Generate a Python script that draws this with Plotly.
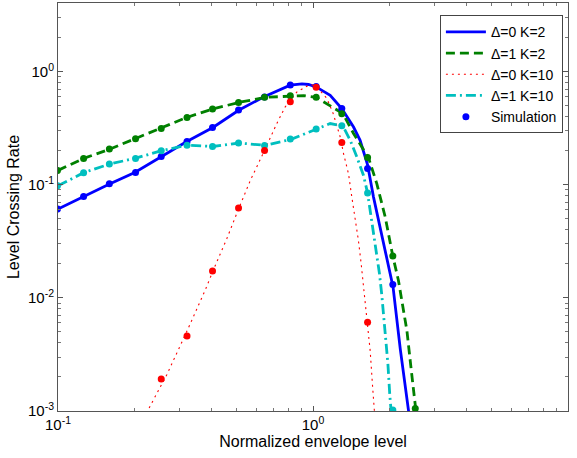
import plotly.graph_objects as go

# ---------------- data ----------------
# simulation sample positions (normalized envelope level)
x_sim = [0.0995, 0.126, 0.159, 0.2014, 0.254, 0.3206, 0.4036, 0.5105,
         0.6457, 0.8147, 1.029, 1.297, 1.637, 2.056, 2.518]

sim_d0_k2 = [0.061, 0.0788, 0.102, 0.1285, 0.178, 0.241, 0.321, 0.458,
             0.597, 0.763, 0.74, 0.472, 0.139, 0.0131, None]
sim_d1_k2 = [0.134, 0.171, 0.207, 0.255, 0.315, 0.394, 0.468, 0.535,
             0.593, 0.613, 0.593, 0.425, 0.174, 0.0235, 0.00105]
sim_d0_k10 = [None, None, None, None, 0.00192, 0.00461, 0.0173, 0.0622,
              0.201, 0.543, 0.728, 0.236, 0.0061, None, None]
sim_d1_k10 = [0.098, 0.128, 0.153, 0.171, 0.2, 0.224, 0.218, 0.234,
              0.223, 0.254, 0.312, 0.332, 0.0845, 0.00102, None]

# theory curves
x_d0_k2 = [0.1, 0.126, 0.16, 0.2, 0.255, 0.32, 0.405, 0.513, 0.64, 0.74,
           0.814, 0.905, 0.96, 1.029, 1.168, 1.297, 1.442, 1.53, 1.637,
           1.727, 1.835, 1.95, 1.995, 2.06, 2.2, 2.37, 2.45]
y_d0_k2 = [0.061, 0.0788, 0.102, 0.1285, 0.178, 0.241, 0.321, 0.458, 0.597,
           0.69, 0.759, 0.78, 0.77, 0.733, 0.619, 0.472, 0.324, 0.247, 0.15,
           0.0778, 0.0422, 0.0229, 0.0175, 0.0125, 0.0035, 0.001, 0.0004]

x_d1_k2 = [0.1, 0.126, 0.16, 0.2, 0.255, 0.32, 0.405, 0.513, 0.65, 0.82,
           0.92, 1.03, 1.134, 1.31, 1.442, 1.65, 1.78, 1.92, 2.056, 2.164,
           2.23, 2.335, 2.43, 2.54, 2.6]
y_d1_k2 = [0.134, 0.171, 0.207, 0.255, 0.315, 0.394, 0.468, 0.535, 0.593,
           0.613, 0.615, 0.593, 0.523, 0.426, 0.284, 0.174, 0.102, 0.0518,
           0.0234, 0.0142, 0.00946, 0.00513, 0.00227, 0.001, 0.0006]

x_d0_k10 = [0.222, 0.267, 0.322, 0.378, 0.411, 0.459, 0.511, 0.568, 0.646,
            0.721, 0.778, 0.865, 0.96, 1.0, 1.03, 1.134, 1.2, 1.278, 1.318,
            1.378, 1.42, 1.464, 1.507, 1.545, 1.602, 1.636, 1.676, 1.71,
            1.742, 1.77]
y_d0_k10 = [0.000955, 0.00209, 0.00521, 0.01175, 0.01866, 0.0333, 0.0614,
            0.1094, 0.2018, 0.3475, 0.488, 0.662, 0.759, 0.76, 0.74, 0.579,
            0.426, 0.265, 0.188, 0.125, 0.0778, 0.0518, 0.0322, 0.02,
            0.00885, 0.0061, 0.0034, 0.00173, 0.001, 0.0006]

x_d1_k10 = [0.1, 0.126, 0.16, 0.2, 0.255, 0.32, 0.405, 0.513, 0.65, 0.82,
            1.03, 1.168, 1.31, 1.4, 1.486, 1.578, 1.637, 1.687, 1.753,
            1.823, 1.862, 1.92, 1.967, 2.0, 2.026, 2.05]
y_d1_k10 = [0.098, 0.128, 0.153, 0.171, 0.2, 0.224, 0.218, 0.234, 0.223,
            0.252, 0.31, 0.348, 0.331, 0.247, 0.176, 0.121, 0.0845, 0.0536,
            0.0322, 0.0163, 0.0105, 0.0048, 0.0026, 0.0014, 0.001, 0.0007]

names = ["Δ=0 K=2", "Δ=1 K=2", "Δ=0 K=10", "Δ=1 K=10"]
sim_name = "Simulation"

x_tickvals = [0.1, 1, 10]
x_ticktext = ["10<sup>-1</sup>", "10<sup>0</sup>", "10<sup>1</sup>"]
y_tickvals = [0.001, 0.01, 0.1, 1]
y_ticktext = ["10<sup>-3</sup>", "10<sup>-2</sup>", "10<sup>-1</sup>", "10<sup>0</sup>"]

# ---------------- styles ----------------
BLUE = "rgb(0,0,255)"
GREEN = "rgb(0,128,0)"
RED = "rgb(255,0,0)"
CYAN = "rgb(0,191,191)"
FONT = "Liberation Sans, Arial, sans-serif"

fig = go.Figure()

fig.add_trace(go.Scatter(x=x_d0_k2, y=y_d0_k2, mode="lines", name=names[0],
                         line=dict(color=BLUE, width=2.8)))
fig.add_trace(go.Scatter(x=x_d1_k2, y=y_d1_k2, mode="lines", name=names[1],
                         line=dict(color=GREEN, width=2.8, dash="9px,5px")))
fig.add_trace(go.Scatter(x=x_d0_k10, y=y_d0_k10, mode="lines", name=names[2],
                         line=dict(color=RED, width=1.1, dash="2px,4px")))
fig.add_trace(go.Scatter(x=x_d1_k10, y=y_d1_k10, mode="lines", name=names[3],
                         line=dict(color=CYAN, width=2.8, dash="10px,4px,2px,4px")))

fig.add_trace(go.Scatter(x=x_sim, y=sim_d0_k2, mode="markers", name=sim_name,
                         marker=dict(color=BLUE, size=7)))
fig.add_trace(go.Scatter(x=x_sim, y=sim_d1_k2, mode="markers", showlegend=False,
                         marker=dict(color=GREEN, size=7)))
fig.add_trace(go.Scatter(x=x_sim, y=sim_d1_k10, mode="markers", showlegend=False,
                         marker=dict(color=CYAN, size=7)))
fig.add_trace(go.Scatter(x=x_sim, y=sim_d0_k10, mode="markers", showlegend=False,
                         marker=dict(color=RED, size=7)))

axis_common = dict(
    type="log", showgrid=False, zeroline=False,
    showline=True, linecolor="#555", linewidth=1, mirror="ticks",
    ticks="inside", ticklen=5, tickcolor="#555", tickwidth=1,
    minor=dict(ticks="inside", ticklen=3, tickcolor="#777", dtick="D1", showgrid=False),
    tickfont=dict(family=FONT, size=15, color="black"),
)

fig.update_xaxes(**axis_common, range=[-1, 1], tickvals=x_tickvals, ticktext=x_ticktext,
                 title=dict(text="Normalized envelope level",
                            font=dict(family=FONT, size=16, color="black"), standoff=2))
fig.update_yaxes(**axis_common, range=[-3, 0.607], tickvals=y_tickvals, ticktext=y_ticktext,
                 title=dict(text="Level Crossing Rate",
                            font=dict(family=FONT, size=16, color="black"), standoff=4))

fig.update_layout(
    width=577, height=458,
    margin=dict(l=58, r=9, t=3, b=47),
    paper_bgcolor="white", plot_bgcolor="white",
    font=dict(family=FONT, size=15, color="black"),
    legend=dict(x=0.99, y=0.97, xanchor="right", yanchor="top",
                bgcolor="white", bordercolor="#444", borderwidth=1,
                font=dict(family=FONT, size=14, color="black"),
                itemwidth=40, tracegroupgap=0),
    showlegend=True,
)

fig.write_html("out.html")
